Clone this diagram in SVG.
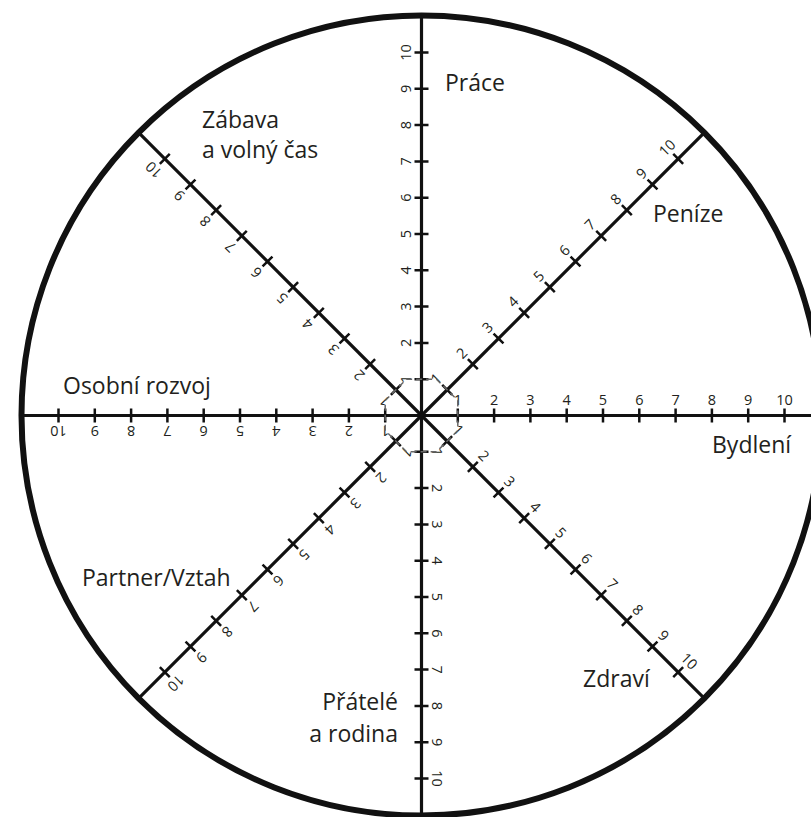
<svg xmlns="http://www.w3.org/2000/svg" width="811" height="817" viewBox="0 0 811 817">
<style>
.rim{fill:none;stroke:#111;stroke-width:6}
.axis{stroke:#111;stroke-width:3.2;fill:none}
.tick{stroke:#111;stroke-width:2.5;fill:none}
.oct{fill:none;stroke:#666;stroke-width:1.5;stroke-dasharray:6 4}
.num{font-family:"Open Sans","Liberation Sans",sans-serif;font-size:14.5px;fill:#231f20;text-anchor:middle}
.lbl{font-family:"Open Sans","Liberation Sans",sans-serif;font-size:23px;fill:#231f20}
</style>
<rect width="811" height="817" fill="#fff"/>
<g id="wheel">
<circle class="rim" cx="421.5" cy="415.5" r="400"/>
</g>
<g id="connectors">
<g id="spoke-bydleni" transform="translate(421.5 415.5)">
<line class="axis" x1="0" y1="0" x2="400" y2="0"/>
<path class="tick" d="M36.3,-7V7M72.6,-7V7M108.9,-7V7M145.2,-7V7M181.5,-7V7M217.8,-7V7M254.1,-7V7M290.4,-7V7M326.7,-7V7M363,-7V7"/>
<text class="num" x="36.3" y="-10.5">1</text><text class="num" x="72.6" y="-10.5">2</text><text class="num" x="108.9" y="-10.5">3</text><text class="num" x="145.2" y="-10.5">4</text><text class="num" x="181.5" y="-10.5">5</text><text class="num" x="217.8" y="-10.5">6</text><text class="num" x="254.1" y="-10.5">7</text><text class="num" x="290.4" y="-10.5">8</text><text class="num" x="326.7" y="-10.5">9</text><text class="num" x="363" y="-10.5">10</text>
</g>
<g id="spoke-zdravi" transform="translate(421.5 415.5) rotate(45)">
<line class="axis" x1="0" y1="0" x2="400" y2="0"/>
<path class="tick" d="M36.3,-7V7M72.6,-7V7M108.9,-7V7M145.2,-7V7M181.5,-7V7M217.8,-7V7M254.1,-7V7M290.4,-7V7M326.7,-7V7M363,-7V7"/>
<text class="num" x="36.3" y="-10.5">1</text><text class="num" x="72.6" y="-10.5">2</text><text class="num" x="108.9" y="-10.5">3</text><text class="num" x="145.2" y="-10.5">4</text><text class="num" x="181.5" y="-10.5">5</text><text class="num" x="217.8" y="-10.5">6</text><text class="num" x="254.1" y="-10.5">7</text><text class="num" x="290.4" y="-10.5">8</text><text class="num" x="326.7" y="-10.5">9</text><text class="num" x="363" y="-10.5">10</text>
</g>
<g id="spoke-pratele" transform="translate(421.5 415.5) rotate(90)">
<line class="axis" x1="0" y1="0" x2="400" y2="0"/>
<path class="tick" d="M36.3,-7V7M72.6,-7V7M108.9,-7V7M145.2,-7V7M181.5,-7V7M217.8,-7V7M254.1,-7V7M290.4,-7V7M326.7,-7V7M363,-7V7"/>
<text class="num" x="36.3" y="-10.5">1</text><text class="num" x="72.6" y="-10.5">2</text><text class="num" x="108.9" y="-10.5">3</text><text class="num" x="145.2" y="-10.5">4</text><text class="num" x="181.5" y="-10.5">5</text><text class="num" x="217.8" y="-10.5">6</text><text class="num" x="254.1" y="-10.5">7</text><text class="num" x="290.4" y="-10.5">8</text><text class="num" x="326.7" y="-10.5">9</text><text class="num" x="363" y="-10.5">10</text>
</g>
<g id="spoke-partner" transform="translate(421.5 415.5) rotate(135)">
<line class="axis" x1="0" y1="0" x2="400" y2="0"/>
<path class="tick" d="M36.3,-7V7M72.6,-7V7M108.9,-7V7M145.2,-7V7M181.5,-7V7M217.8,-7V7M254.1,-7V7M290.4,-7V7M326.7,-7V7M363,-7V7"/>
<text class="num" x="36.3" y="-10.5">1</text><text class="num" x="72.6" y="-10.5">2</text><text class="num" x="108.9" y="-10.5">3</text><text class="num" x="145.2" y="-10.5">4</text><text class="num" x="181.5" y="-10.5">5</text><text class="num" x="217.8" y="-10.5">6</text><text class="num" x="254.1" y="-10.5">7</text><text class="num" x="290.4" y="-10.5">8</text><text class="num" x="326.7" y="-10.5">9</text><text class="num" x="363" y="-10.5">10</text>
</g>
<g id="spoke-osobni" transform="translate(421.5 415.5) rotate(180)">
<line class="axis" x1="0" y1="0" x2="400" y2="0"/>
<path class="tick" d="M36.3,-7V7M72.6,-7V7M108.9,-7V7M145.2,-7V7M181.5,-7V7M217.8,-7V7M254.1,-7V7M290.4,-7V7M326.7,-7V7M363,-7V7"/>
<text class="num" x="36.3" y="-10.5">1</text><text class="num" x="72.6" y="-10.5">2</text><text class="num" x="108.9" y="-10.5">3</text><text class="num" x="145.2" y="-10.5">4</text><text class="num" x="181.5" y="-10.5">5</text><text class="num" x="217.8" y="-10.5">6</text><text class="num" x="254.1" y="-10.5">7</text><text class="num" x="290.4" y="-10.5">8</text><text class="num" x="326.7" y="-10.5">9</text><text class="num" x="363" y="-10.5">10</text>
</g>
<g id="spoke-zabava" transform="translate(421.5 415.5) rotate(225)">
<line class="axis" x1="0" y1="0" x2="400" y2="0"/>
<path class="tick" d="M36.3,-7V7M72.6,-7V7M108.9,-7V7M145.2,-7V7M181.5,-7V7M217.8,-7V7M254.1,-7V7M290.4,-7V7M326.7,-7V7M363,-7V7"/>
<text class="num" x="36.3" y="-10.5">1</text><text class="num" x="72.6" y="-10.5">2</text><text class="num" x="108.9" y="-10.5">3</text><text class="num" x="145.2" y="-10.5">4</text><text class="num" x="181.5" y="-10.5">5</text><text class="num" x="217.8" y="-10.5">6</text><text class="num" x="254.1" y="-10.5">7</text><text class="num" x="290.4" y="-10.5">8</text><text class="num" x="326.7" y="-10.5">9</text><text class="num" x="363" y="-10.5">10</text>
</g>
<g id="spoke-prace" transform="translate(421.5 415.5) rotate(270)">
<line class="axis" x1="0" y1="0" x2="400" y2="0"/>
<path class="tick" d="M36.3,-7V7M72.6,-7V7M108.9,-7V7M145.2,-7V7M181.5,-7V7M217.8,-7V7M254.1,-7V7M290.4,-7V7M326.7,-7V7M363,-7V7"/>
<text class="num" x="36.3" y="-10.5">1</text><text class="num" x="72.6" y="-10.5">2</text><text class="num" x="108.9" y="-10.5">3</text><text class="num" x="145.2" y="-10.5">4</text><text class="num" x="181.5" y="-10.5">5</text><text class="num" x="217.8" y="-10.5">6</text><text class="num" x="254.1" y="-10.5">7</text><text class="num" x="290.4" y="-10.5">8</text><text class="num" x="326.7" y="-10.5">9</text><text class="num" x="363" y="-10.5">10</text>
</g>
<g id="spoke-penize" transform="translate(421.5 415.5) rotate(315)">
<line class="axis" x1="0" y1="0" x2="400" y2="0"/>
<path class="tick" d="M36.3,-7V7M72.6,-7V7M108.9,-7V7M145.2,-7V7M181.5,-7V7M217.8,-7V7M254.1,-7V7M290.4,-7V7M326.7,-7V7M363,-7V7"/>
<text class="num" x="36.3" y="-10.5">1</text><text class="num" x="72.6" y="-10.5">2</text><text class="num" x="108.9" y="-10.5">3</text><text class="num" x="145.2" y="-10.5">4</text><text class="num" x="181.5" y="-10.5">5</text><text class="num" x="217.8" y="-10.5">6</text><text class="num" x="254.1" y="-10.5">7</text><text class="num" x="290.4" y="-10.5">8</text><text class="num" x="326.7" y="-10.5">9</text><text class="num" x="363" y="-10.5">10</text>
</g>
<polygon id="min-octagon" class="oct" transform="translate(421.5 415.5)" points="36.3,-15 36.3,15 15,36.3 -15,36.3 -36.3,15 -36.3,-15 -15,-36.3 15,-36.3"/>
</g>
<g id="label-prace"><text class="lbl" x="445" y="91">Práce</text></g>
<g id="label-zabava"><text class="lbl" x="202" y="128">Zábava</text><text class="lbl" x="202" y="158">a volný čas</text></g>
<g id="label-penize"><text class="lbl" x="653" y="222">Peníze</text></g>
<g id="label-osobni"><text class="lbl" x="63" y="394">Osobní rozvoj</text></g>
<g id="label-bydleni"><text class="lbl" x="712" y="453">Bydlení</text></g>
<g id="label-partner"><text class="lbl" x="82" y="586">Partner/Vztah</text></g>
<g id="label-pratele"><text class="lbl" x="398" y="710" text-anchor="end">Přátelé</text><text class="lbl" x="398" y="742" text-anchor="end">a rodina</text></g>
<g id="label-zdravi"><text class="lbl" x="583" y="687">Zdraví</text></g>
</svg>
